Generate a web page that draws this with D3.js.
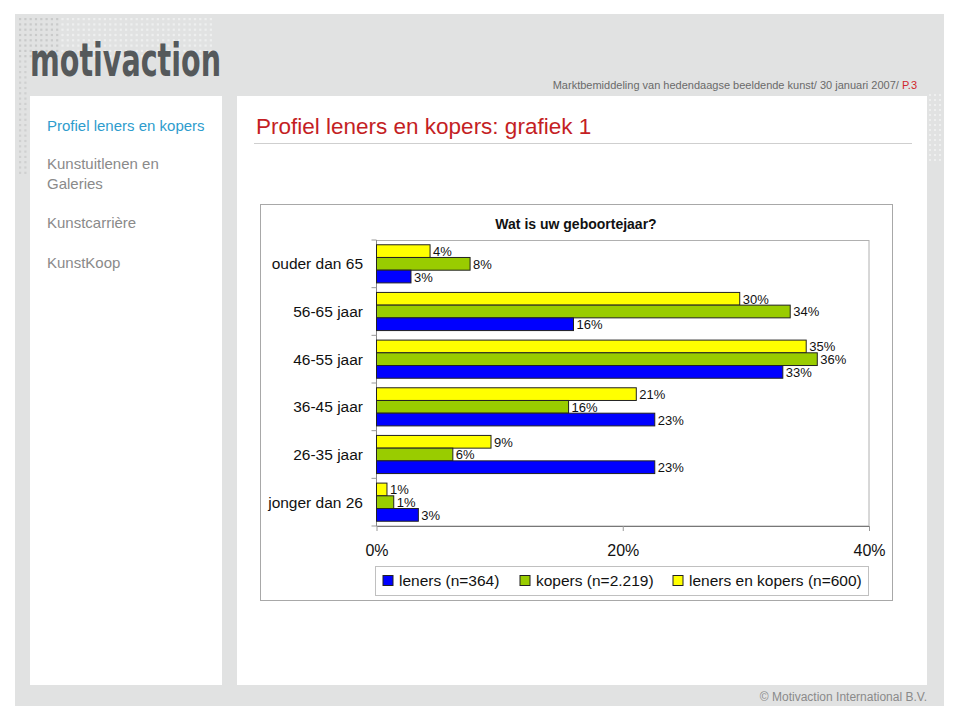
<!DOCTYPE html>
<html>
<head>
<meta charset="utf-8">
<script src="https://cdn.jsdelivr.net/npm/d3@7"></script>
<style>
html,body{margin:0;padding:0;background:#fff;}
svg{display:block;font-family:"Liberation Sans",Arial,sans-serif;}
</style>
</head>
<body>
<svg id="chart" width="960" height="719"></svg>
<script>
// ---- data ----
const categories = ["ouder dan 65","56-65 jaar","46-55 jaar","36-45 jaar","26-35 jaar","jonger dan 26"];
const seriesNames = ["leners en kopers (n=600)","kopers (n=2.219)","leners (n=364)"];
const lenersEnKopers = [4.35, 29.5, 34.9, 21.1, 9.3, 0.85];
const kopers = [7.6, 33.6, 35.8, 15.6, 6.2, 1.4];
const leners = [2.8, 16.0, 33.0, 22.6, 22.6, 3.4];
const seriesColors = ["#ffff00","#99cc00","#0000ff"];
const xTicks = [0, 20, 40];
const legendOrder = [2, 1, 0];
const navItems = [["Profiel leners en kopers"],["Kunstuitlenen en","Galeries"],["Kunstcarrière"],["KunstKoop"]];

const seriesValues = [lenersEnKopers, kopers, leners];

const svg = d3.select("#chart");

// ---- page frame ----
svg.append("rect").attr("x",15).attr("y",14).attr("width",929).attr("height",692).attr("fill","#e1e2e2");
// dotted decoration
const dots = svg.append("g");
for (let r = 0; r < 8; r++) {
  for (let c = 0; c < 40; c++) {
    const x = 19 + c * 5.3, y = 18 + r * 5.3;
    if (x > 215) continue;
    dots.append("rect").attr("x",x).attr("y",y).attr("width",2.2).attr("height",2.2)
      .attr("fill", c < 8 ? "#c9caca" : "#eeefef");
  }
}
for (let r = 8; r < 30; r++) {
  for (let c = 0; c < 2; c++) {
    dots.append("rect").attr("x",19 + c*5.3).attr("y",18 + r*5.3).attr("width",2.2).attr("height",2.2).attr("fill","#cfd0d0");
  }
}
for (let r = 0; r < 14; r++) {
  for (let c = 0; c < 3; c++) {
    dots.append("rect").attr("x",929 + c*5).attr("y",94 + r*5).attr("width",2).attr("height",2).attr("fill","#eeefef");
  }
}

svg.append("rect").attr("x",30).attr("y",96).attr("width",192).attr("height",589).attr("fill","#fff");
svg.append("rect").attr("x",237).attr("y",96).attr("width",690).attr("height",589).attr("fill","#fff");

// logo
svg.append("text").attr("x",30).attr("y",76).attr("font-family","'DejaVu Sans Condensed','DejaVu Sans',sans-serif")
  .attr("font-weight","bold").attr("font-size",46).attr("fill","#55595b")
  .attr("textLength",191).attr("lengthAdjust","spacingAndGlyphs").text("motivaction");

// header
const hdr = svg.append("text").attr("x",917).attr("y",89).attr("text-anchor","end").attr("font-size",11).attr("fill","#6a6a6a");
hdr.append("tspan").text("Marktbemiddeling van hedendaagse beeldende kunst/ 30 januari 2007/  ");
hdr.append("tspan").attr("fill","#d0262c").text("P.3");

// nav
const navY = [[131],[169,189],[228],[268]];
navItems.forEach((lines,i) => {
  lines.forEach((t,j) => {
    svg.append("text").attr("x",47).attr("y",navY[i][j]).attr("font-size",15)
      .attr("fill", i === 0 ? "#2e9ccd" : "#8a8a8a").text(t);
  });
});

// page title
svg.append("text").attr("x",256).attr("y",134).attr("font-size",22.5).attr("fill","#c41e24").text("Profiel leners en kopers: grafiek 1");
svg.append("line").attr("x1",254).attr("x2",912).attr("y1",143.5).attr("y2",143.5).attr("stroke","#cfcfcf");

// footer
svg.append("text").attr("x",927).attr("y",701).attr("text-anchor","end").attr("font-size",12).attr("fill","#8a8a8a").text("© Motivaction International B.V.");

// ---- chart box ----
svg.append("rect").attr("x",260.5).attr("y",204.5).attr("width",632).attr("height",396).attr("fill","#fff").attr("stroke","#a8a8a8");
svg.append("text").attr("x",576).attr("y",229).attr("text-anchor","middle").attr("font-size",14).attr("font-weight","bold").attr("fill","#111").text("Wat is uw geboortejaar?");

const x = d3.scaleLinear().domain([0,40]).range([376.5,869]);
const y = d3.scaleBand().domain(categories).range([240,526]).paddingInner(0.2).paddingOuter(0.1);
const ySub = d3.scaleBand().domain(d3.range(seriesNames.length)).range([0, y.bandwidth()]);

// plot area border
svg.append("rect").attr("x",x(0)).attr("y",240.5).attr("width",x(40)-x(0)).attr("height",285.5)
  .attr("fill","none").attr("stroke","#b0b0b0");

// category axis
const yAxisG = svg.append("g");
yAxisG.append("line").attr("x1",x(0)).attr("x2",x(0)).attr("y1",240).attr("y2",526).attr("stroke","#888");
const bounds = d3.range(categories.length + 1).map(i => 240 + i * (286 / categories.length));
yAxisG.selectAll("line.tk").data(bounds).join("line").attr("class","tk")
  .attr("x1",x(0)-5).attr("x2",x(0)).attr("y1",d=>d).attr("y2",d=>d).attr("stroke","#999");
yAxisG.selectAll("text").data(categories).join("text")
  .attr("x",363).attr("y",d => y(d) + y.bandwidth()/2 + 5.5)
  .attr("text-anchor","end").attr("font-size",15.5).attr("fill","#111").text(d=>d);

// bottom axis
const xAxis = d3.axisBottom(x).tickValues(xTicks).tickFormat(d => d + "%").tickSize(5).tickSizeOuter(0);
const xg = svg.append("g").attr("transform","translate(0,526)").call(xAxis);
xg.select(".domain").attr("stroke","#777");
xg.selectAll(".tick line").attr("stroke","#999");
xg.selectAll(".tick text").attr("font-size",16).attr("fill","#111").attr("font-family","'Liberation Sans',Arial,sans-serif").attr("dy","1.35em");

// bars
const groups = svg.append("g").selectAll("g").data(categories).join("g")
  .attr("transform", d => `translate(0,${y(d)})`);
groups.each(function(cat, ci) {
  const g = d3.select(this);
  seriesValues.forEach((vals, si) => {
    const v = vals[ci];
    g.append("rect").attr("x",x(0)).attr("y",ySub(si)).attr("width",x(v)-x(0)).attr("height",ySub.bandwidth())
      .attr("fill",seriesColors[si]).attr("stroke","#222").attr("stroke-width",1);
    g.append("text").attr("x",x(v)+3).attr("y",ySub(si)+ySub.bandwidth()/2+5)
      .attr("font-size",13).attr("fill","#111").text(Math.round(v) + "%");
  });
});

// legend
svg.append("rect").attr("x",375.5).attr("y",566.5).attr("width",493).attr("height",29).attr("fill","#fff").attr("stroke","#c0c0c0");
const legendX = [383, 520, 673];
legendOrder.forEach((si, i) => {
  svg.append("rect").attr("x",legendX[i]).attr("y",575.5).attr("width",10).attr("height",10)
    .attr("fill",seriesColors[si]).attr("stroke","#222");
  svg.append("text").attr("x",legendX[i]+16).attr("y",586).attr("font-size",15.5).attr("fill","#111").text(seriesNames[si]);
});
</script>
</body>
</html>
